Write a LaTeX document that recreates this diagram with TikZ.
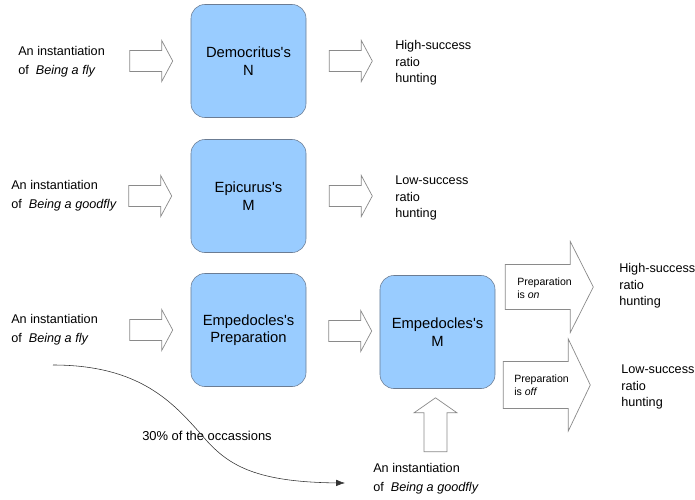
\documentclass[tikz,border=0pt]{standalone}
\usepackage{fontspec}
\setmainfont{Liberation Sans}
\usetikzlibrary{arrows.meta, positioning, calc}
\definecolor{boxFill}{HTML}{99CCFF}
\definecolor{boxLine}{HTML}{6B7C93}
\definecolor{arrowLine}{HTML}{8A8A8A}

% hollow block arrow, drawn back from its tip: [opts]{tip}{length}{head}{body half}{head half}
\newcommand{\hollowarrow}[6][]{%
  \draw[hollow,shift={#2},#1] (0,0) -- (-#4,-#6) -- (-#4,-#5) -- (-#3,-#5)
    -- (-#3,#5) -- (-#4,#5) -- (-#4,#6) -- cycle;}

\begin{document}
\begin{tikzpicture}[
  x=0.025cm, y=-0.025cm,
  box/.style={draw=boxLine, fill=boxFill, rounded corners=0.35cm, minimum width=2.875cm,
              minimum height=2.825cm, align=center, inner sep=2pt,
              font=\fontsize{10.5}{12.5}\selectfont},
  lbl/.style={anchor=west, inner sep=0pt, align=left, font=\fontsize{9}{13.5}\selectfont},
  res/.style={lbl, font=\fontsize{9}{11.8}\selectfont},
  tag/.style={lbl, font=\fontsize{7.5}{9.5}\selectfont},
  hollow/.style={draw=arrowLine, fill=white, line width=0.5pt},
  curve/.style={-{Latex[length=2.2mm,width=1.6mm]}, draw=black!80, line width=0.4pt}
]
\useasboundingbox (0,0) rectangle (695,499);

% processing units
\node[box] (dem)  at (248.5,61)  {Democritus\textquotesingle s\\N};
\node[box] (epi)  at (248.5,196) {Epicurus\textquotesingle s\\M};
\node[box] (prep) at (248.5,330) {Empedocles\textquotesingle s\\Preparation};
\node[box] (empm) at (437.5,332) {Empedocles\textquotesingle s\\M};

% inputs
\node[lbl] (fly1)     at (18,61.5)  {An instantiation\\of \ \textit{Being a fly}};
\node[lbl] (goodfly1) at (11,195.5) {An instantiation\\of \ \textit{Being a goodfly}};
\node[lbl] (fly2)     at (11,329.5) {An instantiation\\of \ \textit{Being a fly}};
\node[lbl] (goodfly2) at (373,478.5) {An instantiation\\of \ \textit{Being a goodfly}};

% outputs
\node[res] (high1) at (395,63)  {High-success\\ratio\\hunting};
\node[res] (low1)  at (395,198) {Low-success\\ratio\\hunting};
\node[res] (high2) at (619,286) {High-success\\ratio\\hunting};
\node[res] (low2)  at (621,387) {Low-success\\ratio\\hunting};

% block arrows
\hollowarrow{($(dem.west)+(-18,0)$)}{43}{11}{10.5}{20.5}
\hollowarrow{($(dem.east)+(66,0)$)}{43}{11}{10.5}{20.5}
\hollowarrow{($(epi.west)+(-19,0)$)}{43}{11}{10.5}{20.5}
\hollowarrow{($(epi.east)+(66,0)$)}{43}{11}{10.5}{20.5}
\hollowarrow{($(prep.west)+(-18,0)$)}{43}{11}{10.5}{20.5}
\hollowarrow{($(empm.west)+(-8,-1)$)}{43}{11}{10.5}{20.5}
\hollowarrow{($(empm.east)+(98,-45)$)}{88}{23}{22.5}{45.5}
\hollowarrow{($(empm.east)+(95,53)$)}{87}{22}{23.5}{46}
\hollowarrow[rotate=90]{($(empm.south)+(-2,9)$)}{54}{15}{11.5}{21.5}

\node[tag] (on)  at (517,288.5) {Preparation\\is \textit{on}};
\node[tag] (off) at (514,385)   {Preparation\\is \textit{off}};

% occasional switch
\coordinate (curvestart) at (53,365);
\coordinate (curveend) at ($(goodfly2.west)+(-28,4.5)$);
\node[font=\fontsize{9.2}{11}\selectfont, inner sep=0pt] (share) at (207,436) {30\% of the occassions};
\draw[curve] (curvestart) .. controls (140,365) and (173,403) .. (200,433)
  .. controls (225,463) and (250,482) .. (curveend);
\end{tikzpicture}
\end{document}
